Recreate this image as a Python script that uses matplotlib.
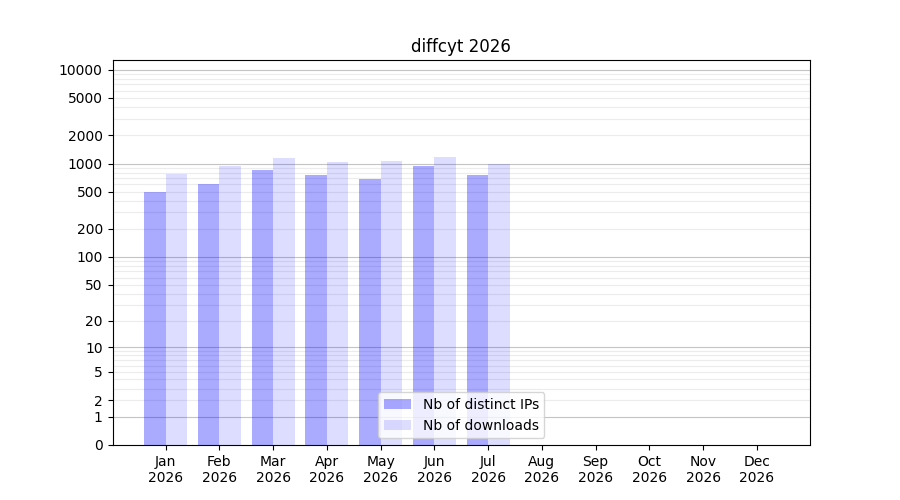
import numpy as np
import matplotlib
matplotlib.use("Agg")
import matplotlib.pyplot as plt

months = ["Jan", "Feb", "Mar", "Apr", "May", "Jun", "Jul", "Aug", "Sep", "Oct", "Nov", "Dec"]
year = "2026"
nb_ips = [494, 601, 848, 750, 679, 935, 750, 0, 0, 0, 0, 0]
nb_downloads = [769, 936, 1140, 1032, 1059, 1167, 995, 0, 0, 0, 0, 0]
ytick_vals = [0, 1, 2, 5, 10, 20, 50, 100, 200, 500, 1000, 2000, 5000, 10000]


def fwd(x):
    return np.log10(1 + np.clip(x, 0, None))


def inv(y):
    return 10 ** y - 1


fig, ax = plt.subplots(figsize=(9, 5), dpi=100)
ax.set_yscale("function", functions=(fwd, inv))

x = np.arange(1, 13)
ax.bar(x - 0.2, nb_ips, width=0.4, color=(0, 0, 1, 0.333), label="Nb of distinct IPs", zorder=2)
ax.bar(x + 0.2, nb_downloads, width=0.4, color=(0, 0, 1, 0.133), label="Nb of downloads", zorder=2)

# grid behind the (transparent) bars: decades darker, in-between multiples lighter
for k in range(0, 5):
    ax.axhline(10 ** k, color="#c4c4c4", lw=0.8, zorder=1)
    if k < 4:
        for m in range(2, 10):
            ax.axhline(m * 10 ** k, color="#ececec", lw=0.8, zorder=1)

ax.set_ylim(0, 12700)
ax.set_yticks(ytick_vals)
ax.set_yticklabels([str(v) for v in ytick_vals])
ax.minorticks_off()
ax.set_xticks(x)
ax.set_xticklabels([f"{m}\n{year}" for m in months])
ax.set_title("diffcyt 2026")
ax.legend(loc="lower center")

fig.savefig("out.png")
